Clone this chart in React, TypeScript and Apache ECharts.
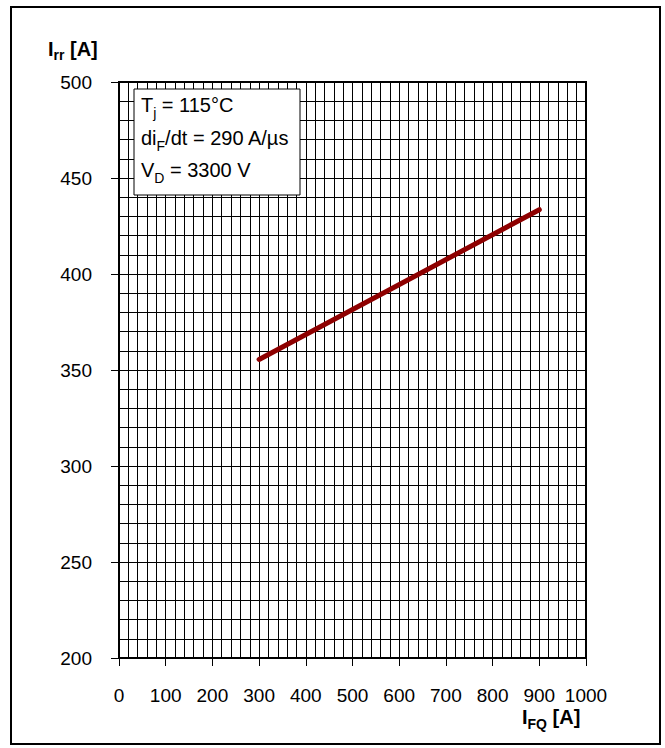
import React, { useEffect, useRef } from "react";
import * as echarts from "echarts";

const xRange = [0, 1000];
const yRange = [200, 500];
const xMajor = 100;
const yMajor = 50;
const curveX = [300, 900];
const curveY = [355.5, 433.5];
const legendLines = [
  { main: "T", sub: "j", rest: " = 115°C" },
  { main: "di", sub: "F", rest: "/dt = 290 A/µs" },
  { main: "V", sub: "D", rest: " = 3300 V" },
];
const yTitle = { main: "I", sub: "rr", rest: " [A]" };
const xTitle = { main: "I", sub: "FQ", rest: " [A]" };

const FONT = "'Liberation Sans', Arial, Helvetica, sans-serif";

function richText(
  t: { main: string; sub: string; rest: string },
  bold: boolean,
  size: number,
  subSize: number,
  pad: number,
  mainLH = 24,
  subLH = 16
) {
  const fw = bold ? "bold" : "normal";
  return {
    text: `{n|${t.main}}{s|${t.sub}}{n|${t.rest}}`,
    rich: {
      n: { fontSize: size, fontFamily: FONT, fontWeight: fw, color: "#000", lineHeight: mainLH },
      s: { fontSize: subSize, fontFamily: FONT, fontWeight: fw, color: "#000", lineHeight: subLH, padding: [pad, 0, 0, 0] },
    },
  };
}

export default function App() {
  const ref = useRef<HTMLDivElement>(null);
  useEffect(() => {
    if (!ref.current) return;
    const chart = echarts.init(ref.current, null, { renderer: "svg" });
    const data = curveX.map((x, i) => [x, curveY[i]]);
    const legendTop = [93, 126, 158];
    chart.setOption({
      animation: false,
      backgroundColor: "#fff",
      grid: {
        left: 119,
        top: 82,
        width: 467,
        height: 576,
        show: true,
        borderColor: "#000",
        borderWidth: 2,
        backgroundColor: "transparent",
      },
      xAxis: {
        type: "value",
        min: xRange[0],
        max: xRange[1],
        interval: xMajor,
        axisLine: { show: true, onZero: false, lineStyle: { color: "#000", width: 2 } },
        axisTick: { show: true, inside: false, length: 8, lineStyle: { color: "#000", width: 1 } },
        axisLabel: { show: true, margin: 28, fontSize: 19, lineHeight: 18, fontFamily: FONT, color: "#000", formatter: (v: number) => String(v) },
        splitLine: { show: true, lineStyle: { color: "#000", width: 1 } },
        minorTick: { show: false, splitNumber: 5 },
        minorSplitLine: { show: true, lineStyle: { color: "#000", width: 1 } },
      },
      yAxis: {
        type: "value",
        min: yRange[0],
        max: yRange[1],
        interval: yMajor,
        axisLine: { show: true, onZero: false, lineStyle: { color: "#000", width: 2 } },
        axisTick: { show: true, inside: false, length: 8, lineStyle: { color: "#000", width: 1 } },
        axisLabel: { show: true, margin: 27, fontSize: 19, fontFamily: FONT, color: "#000", formatter: (v: number) => String(v) },
        splitLine: { show: true, lineStyle: { color: "#000", width: 1 } },
        minorTick: { show: false, splitNumber: 5 },
        minorSplitLine: { show: true, lineStyle: { color: "#000", width: 1 } },
      },
      series: [
        {
          type: "line",
          data,
          symbol: "none",
          lineStyle: { color: "#8e0000", width: 5, cap: "round" },
          z: 5,
        },
      ],
      graphic: [
        {
          type: "rect",
          shape: { x: 11, y: 7, width: 649, height: 737 },
          style: { fill: "none", stroke: "#000", lineWidth: 2 },
          z: 100,
        },
        {
          type: "rect",
          shape: { x: 134, y: 89, width: 166, height: 106 },
          style: { fill: "#fff", stroke: "#000", lineWidth: 1 },
          z: 100,
        },
        ...legendLines.map((l, i) => ({
          type: "text",
          x: 141,
          y: legendTop[i],
          z: 101,
          style: { ...richText(l, false, 20, 14, 16), verticalAlign: "top", align: "left" },
        })),
        {
          type: "text",
          x: 48,
          y: 37,
          z: 101,
          style: { ...richText(yTitle, true, 20, 14, 12), verticalAlign: "top", align: "left" },
        },
        {
          type: "text",
          x: 522,
          y: 707,
          z: 101,
          style: { ...richText(xTitle, true, 20, 14, 14, 20, 6), verticalAlign: "top", align: "left" },
        },
      ],
    });
    return () => chart.dispose();
  }, []);
  return (
    <div
      ref={ref}
      style={{ position: "fixed", left: 0, top: 0, width: 665, height: 748, background: "#fff" }}
    />
  );
}
